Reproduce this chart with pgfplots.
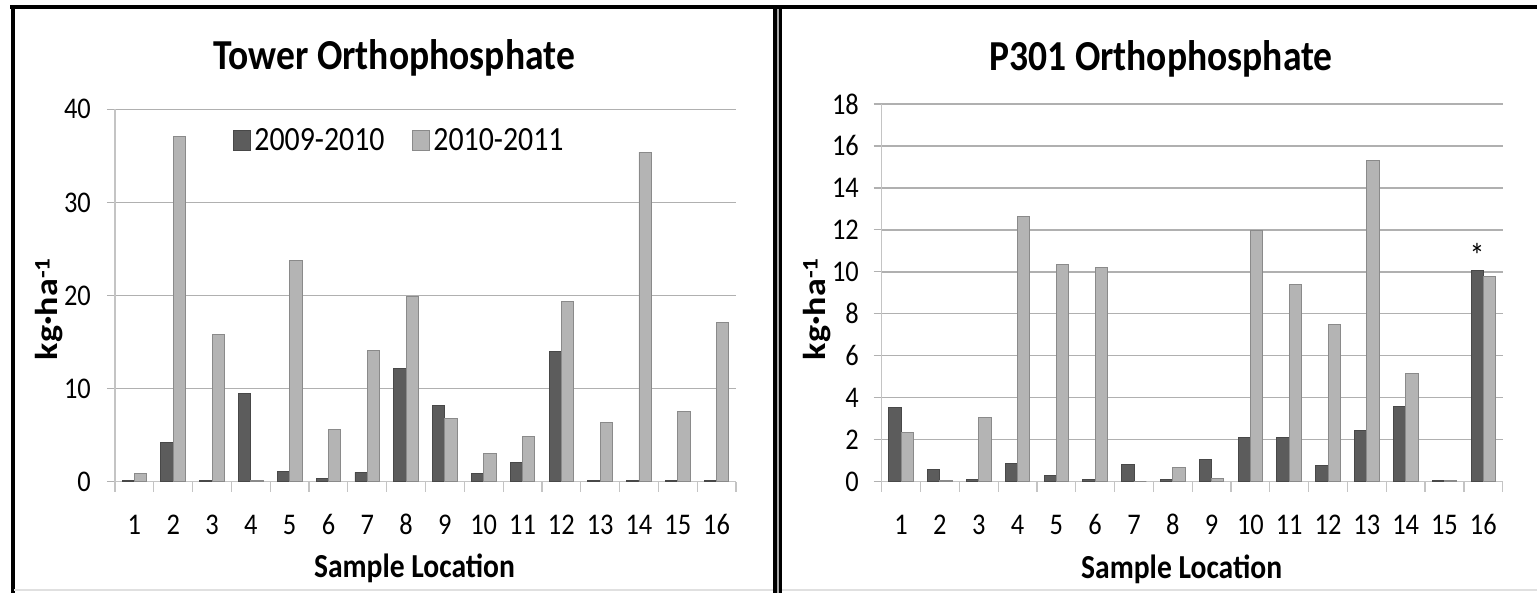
\documentclass[border=0pt]{standalone}
\usepackage{fontspec}
\setmainfont{Carlito}[FakeStretch=0.88]
\newfontfamily\plainfont{Carlito}
\usepackage{graphicx}
\usepackage{pgfplots}
\pgfplotsset{compat=1.18}
\definecolor{darkbar}{HTML}{5C5C5C}
\definecolor{darkedge}{HTML}{484848}
\definecolor{lightbar}{HTML}{B4B4B4}
\definecolor{lightedge}{HTML}{8A8A8A}
\definecolor{gridc}{HTML}{B0B0B0}
\definecolor{axisc}{HTML}{C4C4C4}

\pgfplotsset{
  /pgf/number format/assume math mode=true,
  orthostyle/.style={
    scale only axis, width=621pt,
    ybar=0pt, bar width=12.3pt,
    xmin=0.5, xmax=16.5, ymin=0,
    axis lines*=left,
    axis line style={draw=axisc, line width=1.3pt},
    xtick={1,...,16},
    xticklabels={1,2,3,4,5,6,7,8,9,10,11,12,13,14,15,16},
    major x tick style={draw=none},
    minor xtick={0.5,1.5,...,16.5},
    minor x tick style={draw=axisc, line width=1.2pt},
    minor tick length=10pt,
    major tick length=8pt,
    tick align=outside,
    major y tick style={draw=gridc, line width=1.2pt},
    ymajorgrids,
    grid style={draw=gridc, line width=1.3pt},
    ticklabel style={font=\fontsize{30}{31}\selectfont, text=black},
    xticklabel style={anchor=base, inner sep=0pt, yshift=-45pt},
    title style={font=\bfseries\fontsize{42.7}{46}\selectfont, anchor=base, inner sep=0pt},
    xlabel style={font=\bfseries\fontsize{33.6}{36}\selectfont, anchor=base, inner sep=0pt},
    ylabel style={rotate=-90, anchor=center, inner sep=0pt},
    legend image code/.code={\draw[#1] (0pt,-10pt) rectangle (17pt,10pt);},
    clip=false,
  },
  darkser/.style={fill=darkbar, draw=darkedge, line width=0.9pt},
  lightser/.style={fill=lightbar, draw=lightedge, line width=0.9pt},
}

\newcommand{\ylab}{\scalebox{0.88}[1]{\rotatebox{90}{\plainfont\bfseries\fontsize{36}{38}\selectfont kg·ha\textsuperscript{-1}}}}

\begin{document}
\begin{tikzpicture}[x=1pt,y=1pt]
\path[use as bounding box] (0,0) rectangle (1537,593);

% frames
\draw[black, line width=4pt] (10,585.5) -- (1537,585.5);
\draw[black, line width=4pt] (12.5,0) -- (12.5,587.5);
\draw[black, line width=8.7pt] (777.7,0) -- (777.7,587.5);
\draw[gray!70, line width=2.3pt] (777.7,0) -- (777.7,583.5);
\draw[black!12, line width=1.5pt] (14,3) -- (773,3);
\draw[black!12, line width=1.5pt] (782,3) -- (1537,3);

% ---------- Tower ----------
\begin{axis}[orthostyle,
  at={(115pt,111.3pt)}, anchor=south west,
  height=372.4pt, ymax=40, ytick={0,10,20,30,40},
  yticklabel style={anchor=east, inner sep=0pt, xshift=-16pt},
  title={Tower Orthophosphate},
  title style={at={(axis description cs:0.4493,1.0894)}},
  xlabel={Sample Location},
  xlabel style={at={(axis description cs:0.4823,-0.2586)}},
  ylabel={\ylab},
  ylabel style={at={(axis description cs:-0.1063,0.4637)}},
  legend style={at={(axis description cs:0.459,0.9175)}, anchor=center,
    draw=none, fill=none, inner sep=0pt,
    font=\fontsize{33.9}{36}\selectfont,
    legend columns=2,
    /tikz/every even column/.append style={column sep=24pt},
    nodes={inner sep=0pt, inner xsep=3.5pt}},
]
\addplot[darkser] coordinates {
(1,0.15) (2,4.2) (3,0.1) (4,9.5) (5,1.1) (6,0.3) (7,1.0) (8,12.2)
(9,8.2) (10,0.85) (11,2.1) (12,13.97) (13,0.1) (14,0.1) (15,0.1) (16,0.1)};
\addlegendentry{2009-2010}
\addplot[lightser] coordinates {
(1,0.86) (2,37.1) (3,15.8) (4,0.1) (5,23.8) (6,5.6) (7,14.1) (8,19.9)
(9,6.75) (10,3.07) (11,4.85) (12,19.36) (13,6.38) (14,35.4) (15,7.5) (16,17.1)};
\addlegendentry{2010-2011}
\end{axis}

% ---------- P301 ----------
\begin{axis}[orthostyle,
  at={(881.7pt,111.3pt)}, anchor=south west,
  height=377.7pt, ymax=18, ytick={0,2,...,18},
  yticklabel style={anchor=east, inner sep=0pt, xshift=-14.7pt},
  title={P301 Orthophosphate},
  title style={at={(axis description cs:0.4498,1.0741)}},
  xlabel={Sample Location},
  xlabel style={at={(axis description cs:0.483,-0.255)}},
  ylabel={\ylab},
  ylabel style={at={(axis description cs:-0.1042,0.4572)}},
]
\addplot[darkser] coordinates {
(1,3.52) (2,0.6) (3,0.1) (4,0.86) (5,0.3) (6,0.1) (7,0.8) (8,0.1)
(9,1.08) (10,2.1) (11,2.1) (12,0.78) (13,2.46) (14,3.58) (15,0.05) (16,10.06)};
\addplot[lightser] coordinates {
(1,2.35) (2,0.05) (3,3.08) (4,12.66) (5,10.36) (6,10.2) (7,0) (8,0.67)
(9,0.15) (10,11.98) (11,9.38) (12,7.5) (13,15.32) (14,5.15) (15,0.05) (16,9.77)};
\node[anchor=base, inner sep=0pt, xshift=-6.15pt, yshift=3.3pt,
  font=\fontsize{34}{35}\selectfont] at (axis cs:16,10.06) {*};
\end{axis}
\end{tikzpicture}
\end{document}
